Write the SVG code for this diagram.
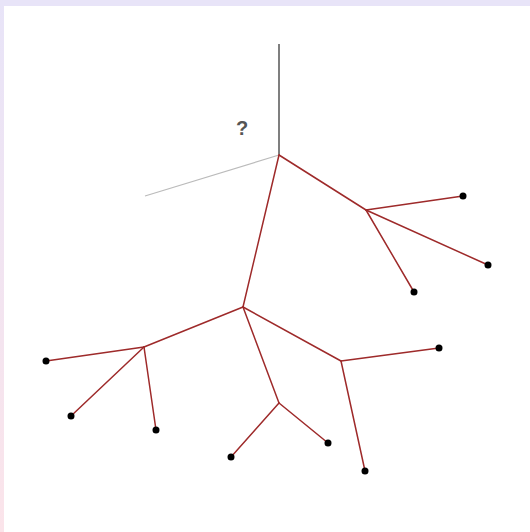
<svg xmlns="http://www.w3.org/2000/svg" width="530" height="532" viewBox="0 0 530 532">
<defs>
<linearGradient id="lg" x1="0" y1="0" x2="0" y2="1">
<stop offset="0" stop-color="#e8e4f8"/>
<stop offset="1" stop-color="#fbe4ea"/>
</linearGradient>
<style>
.e{stroke:#9e2a2a;stroke-width:1.5;fill:none;stroke-linecap:round}
.leaf{fill:#000}
</style>
</defs>
<rect x="0" y="0" width="530" height="532" fill="#fff"/>
<rect x="0" y="0" width="530" height="6" fill="#e8e4f8"/>
<rect x="0" y="0" width="4" height="532" fill="url(#lg)"/>
<g id="connectors">
<line x1="279" y1="44" x2="279" y2="155" stroke="#555" stroke-width="1.5"/>
<line x1="279" y1="155" x2="145" y2="196" stroke="#bbb" stroke-width="1.2"/>
<line class="e" x1="279" y1="155" x2="366" y2="210"/>
<line class="e" x1="279" y1="155" x2="243" y2="307"/>
<line class="e" x1="366" y1="210" x2="463" y2="196"/>
<line class="e" x1="366" y1="210" x2="488" y2="265"/>
<line class="e" x1="366" y1="210" x2="414" y2="292"/>
<line class="e" x1="243" y1="307" x2="144" y2="347"/>
<line class="e" x1="243" y1="307" x2="279" y2="403"/>
<line class="e" x1="243" y1="307" x2="341" y2="361"/>
<line class="e" x1="144" y1="347" x2="46" y2="361"/>
<line class="e" x1="144" y1="347" x2="71" y2="416"/>
<line class="e" x1="144" y1="347" x2="156" y2="430"/>
<line class="e" x1="279" y1="403" x2="231" y2="457"/>
<line class="e" x1="279" y1="403" x2="328" y2="443"/>
<line class="e" x1="341" y1="361" x2="439" y2="348"/>
<line class="e" x1="341" y1="361" x2="365" y2="471"/>
</g>
<g id="label"><text x="242" y="135" font-family="Liberation Sans, Arial, sans-serif" font-size="20" font-weight="bold" fill="#555" text-anchor="middle">?</text></g>
<g id="leaf1"><circle class="leaf" cx="463" cy="196" r="3.5"/></g>
<g id="leaf2"><circle class="leaf" cx="488" cy="265" r="3.5"/></g>
<g id="leaf3"><circle class="leaf" cx="414" cy="292" r="3.5"/></g>
<g id="leaf4"><circle class="leaf" cx="46" cy="361" r="3.5"/></g>
<g id="leaf5"><circle class="leaf" cx="71" cy="416" r="3.5"/></g>
<g id="leaf6"><circle class="leaf" cx="156" cy="430" r="3.5"/></g>
<g id="leaf7"><circle class="leaf" cx="231" cy="457" r="3.5"/></g>
<g id="leaf8"><circle class="leaf" cx="328" cy="443" r="3.5"/></g>
<g id="leaf9"><circle class="leaf" cx="439" cy="348" r="3.5"/></g>
<g id="leaf10"><circle class="leaf" cx="365" cy="471" r="3.5"/></g>
</svg>
